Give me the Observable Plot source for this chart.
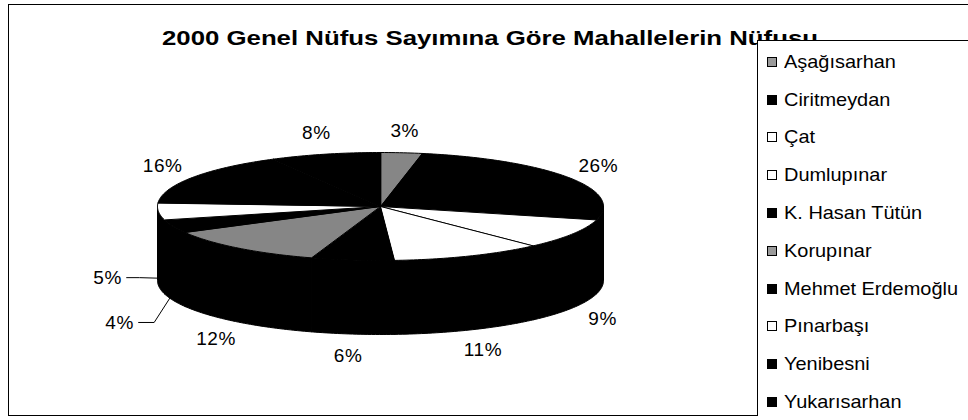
<!DOCTYPE html>
<html>
<head>
<meta charset="utf-8">
<script src="https://cdn.jsdelivr.net/npm/d3@7"></script>
<script src="https://cdn.jsdelivr.net/npm/@observablehq/plot@0.6"></script>
<style>
html, body { margin: 0; padding: 0; background: #fff; }
#wrap { position: relative; width: 968px; height: 420px; overflow: hidden; font-family: "Liberation Sans", Arial, sans-serif; color: #000; }
#wrap svg { position: absolute; left: 0; top: 0; }
#frame { position: absolute; left: 8px; top: 4px; width: 990px; height: 412px; border: 1px solid #000; box-sizing: border-box; }
#title { position: absolute; left: 162px; top: 27px; font-weight: bold; font-size: 21px; line-height: 22px; white-space: nowrap; transform-origin: 0 50%; }
#legend { position: absolute; left: 757px; top: 40px; width: 240px; height: 376px; background: #fff; border-left: 1px solid #000; border-top: 1px solid #000; box-sizing: border-box; padding-top: 2px; }
.row { height: 37.8px; display: flex; align-items: center; font-size: 19px; white-space: nowrap; }
.row .tx { display: inline-block; transform-origin: 0 50%; }
.sw { width: 10px; height: 10px; border: 1px solid #000; box-sizing: border-box; margin-left: 9px; margin-right: 7px; flex: none; }
</style>
</head>
<body>
<div id="wrap"></div>
<script>
// ---- data ----
const names = ["Aşağısarhan", "Ciritmeydan", "Çat", "Dumlupınar", "K. Hasan Tütün", "Korupınar", "Mehmet Erdemoğlu", "Pınarbaşı", "Yenibesni", "Yukarısarhan"];
const shares = [3, 26, 9, 11, 6, 12, 4, 5, 16, 8];
const pctLabels = ["3%", "26%", "9%", "11%", "6%", "12%", "4%", "5%", "16%", "8%"];
const titleText = "2000 Genel Nüfus Sayımına Göre Mahallelerin Nüfusu";

// ---- style / layout ----
const DITHER = "url(#dither)";
const topFill = {
  "Aşağısarhan": DITHER, "Ciritmeydan": "#000", "Çat": "#fff", "Dumlupınar": "#fff",
  "K. Hasan Tütün": "#000", "Korupınar": DITHER, "Mehmet Erdemoğlu": "#000",
  "Pınarbaşı": "#fff", "Yenibesni": "#000", "Yukarısarhan": "#000"
};
const legendFill = {"url(#dither)": "#9a9a9a"};
const W = 968, H = 420;
const CX = 380, CY = 206, RX = 223, RY = 54, DEPTH = 74;
const LABEL_DX = 35, LABEL_DY = 22;
const TITLE_WIDTH = 656;
const LEGEND_TEXT_MAX = 174;
const leaderNudge = {"Pınarbaşı": [-16, -10], "Mehmet Erdemoğlu": [-21, 14]};

// ---- geometry from data ----
const total = d3.sum(shares);
let acc = 0;
const slices = names.map((name, i) => {
  const a0 = acc / total * 2 * Math.PI;
  acc += shares[i];
  const a1 = acc / total * 2 * Math.PI;
  return {name, value: shares[i], label: pctLabels[i], a0, a1, mid: (a0 + a1) / 2, fill: topFill[name]};
});
const px = a => CX + RX * Math.sin(a);
const py = a => CY - RY * Math.cos(a);
function arc(a0, a1) {
  const n = Math.max(2, Math.ceil((a1 - a0) / (Math.PI / 180)));
  return d3.range(n + 1).map(k => a0 + (a1 - a0) * k / n);
}

const topPts = [];
const wallPts = [];
for (const s of slices) {
  topPts.push({key: s.name, fill: s.fill, x: CX, y: CY});
  for (const a of arc(s.a0, s.a1)) topPts.push({key: s.name, fill: s.fill, x: px(a), y: py(a)});
  const st = Math.max(s.a0, Math.PI / 2), en = Math.min(s.a1, 3 * Math.PI / 2);
  if (st < en) {
    const as = arc(st, en);
    for (const a of as) wallPts.push({key: s.name, x: px(a), y: py(a)});
    for (const a of as.slice().reverse()) wallPts.push({key: s.name, x: px(a), y: py(a) + DEPTH});
  }
}

const labelPos = slices.map(s => {
  const c = Math.cos(s.mid), sn = Math.sin(s.mid);
  let x = CX + (RX + LABEL_DX) * sn;
  let y = CY - (RY + LABEL_DY) * c + (c < 0 ? DEPTH : 0);
  const nud = leaderNudge[s.name];
  if (nud) { x += nud[0]; y += nud[1]; }
  return {...s, lx: x, ly: y};
});

const leaderPts = [];
for (const s of labelPos) {
  if (!leaderNudge[s.name]) continue;
  const ax = px(s.mid), ay = py(s.mid) + 0.9 * DEPTH;
  leaderPts.push({key: s.name, x: ax, y: ay});
  leaderPts.push({key: s.name, x: ax - 19, y: s.ly});
  leaderPts.push({key: s.name, x: s.lx + 19, y: s.ly});
}

const chart = Plot.plot({
  width: W, height: H,
  marginTop: 0, marginRight: 0, marginBottom: 0, marginLeft: 0,
  x: {domain: [0, W], range: [0, W], axis: null},
  y: {domain: [0, H], range: [0, H], axis: null},
  color: {type: "identity"},
  style: {background: "transparent", fontFamily: "'Liberation Sans', Arial, sans-serif", letterSpacing: "0.6px"},
  marks: [
    Plot.line(wallPts, {x: "x", y: "y", z: "key", fill: "#000", stroke: "#000", strokeWidth: 1, curve: "linear-closed"}),
    Plot.line(topPts, {x: "x", y: "y", z: "key", fill: d => d.fill, stroke: "#000", strokeWidth: 1, curve: "linear-closed"}),
    Plot.line(leaderPts, {x: "x", y: "y", z: "key", stroke: "#000", strokeWidth: 1}),
    Plot.text(labelPos, {x: "lx", y: "ly", text: "label", fontSize: 19, fill: "#000"})
  ]
});
chart.insertAdjacentHTML("afterbegin",
  `<defs><pattern id="dither" width="2" height="2" patternUnits="userSpaceOnUse">
     <rect width="2" height="2" fill="#d8d8d8"/>
     <rect x="0" y="0" width="1" height="1" fill="#222"/>
     <rect x="1" y="1" width="1" height="1" fill="#444"/>
   </pattern></defs>`);

const wrap = document.getElementById("wrap");
wrap.appendChild(chart);

const frame = document.createElement("div");
frame.id = "frame";
wrap.appendChild(frame);

const title = document.createElement("div");
title.id = "title";
title.textContent = titleText;
wrap.appendChild(title);
const natural = title.getBoundingClientRect().width;
title.style.transform = `scaleX(${TITLE_WIDTH / natural})`;

const legend = document.createElement("div");
legend.id = "legend";
wrap.appendChild(legend);
const texts = [];
for (const s of slices) {
  const row = document.createElement("div");
  row.className = "row";
  const sw = document.createElement("span");
  sw.className = "sw";
  sw.style.background = legendFill[s.fill] || s.fill;
  const tx = document.createElement("span");
  tx.className = "tx";
  tx.textContent = s.name;
  row.appendChild(sw);
  row.appendChild(tx);
  legend.appendChild(row);
  texts.push(tx);
}
const widest = d3.max(texts, t => t.getBoundingClientRect().width);
const k = Math.min(1.12, LEGEND_TEXT_MAX / widest);
for (const t of texts) t.style.transform = `scaleX(${k})`;
</script>
</body>
</html>
